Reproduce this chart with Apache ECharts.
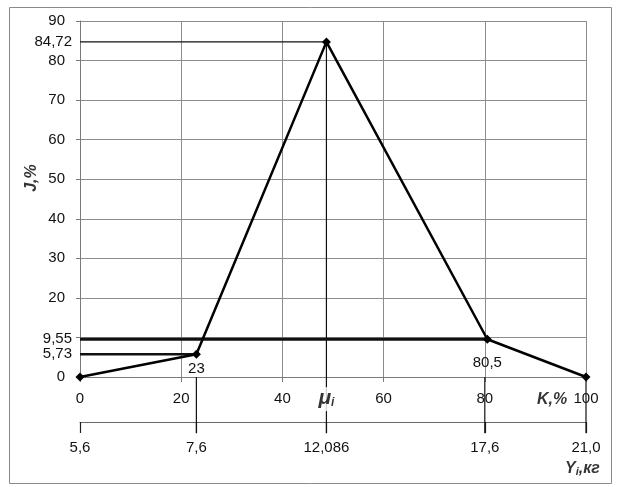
<!DOCTYPE html>
<html>
<head>
<meta charset="utf-8">
<script src="https://cdn.jsdelivr.net/npm/echarts@6/dist/echarts.min.js"></script>
<style>
  html, body { margin: 0; padding: 0; background: #fff; }
  #chart { width: 617px; height: 487px; }
</style>
</head>
<body>
<div id="chart"></div>
<script>
// ломаная J(K)
const kValues = [0, 23, 48.7, 80.5, 100];
const jValues = [0, 5.73, 84.72, 9.55, 0];
const kTicks = [0, 20, 40, 60, 80, 100];
const jTicks = [0, 20, 30, 40, 50, 60, 70, 80, 90];
const jMarks = [5.73, 9.55, 84.72];
// вторая шкала Yi, кг
const yiPos = [0, 23, 48.7, 80, 100];
const yiLabels = ['5,6', '7,6', '12,086', '17,6', '21,0'];

const font = 'Liberation Sans';
const comma = v => String(v).replace('.', ',');
const guideBottom = -14.2; // низ засечек второй шкалы
const peak = 2;

const chart = echarts.init(document.getElementById('chart'));

const vline = (x, y0) => ({
  type: 'line', silent: true, clip: false, symbol: 'none', z: 3,
  data: [[x, y0], [x, guideBottom]],
  lineStyle: { color: '#111', width: 1.2 }
});
const hline = (i, w, c) => ({
  type: 'line', silent: true, clip: false, symbol: 'none', z: 3,
  data: [[0, jValues[i]], [kValues[i], jValues[i]]],
  lineStyle: { color: c, width: w }
});
const note = (x, y, text, extra) => ({
  value: [x, y],
  label: Object.assign({ show: true, position: 'inside', formatter: text }, extra || {})
});

const option = {
  animation: false,
  textStyle: { fontFamily: font },
  graphic: [{
    type: 'rect', silent: true,
    shape: { x: 9.5, y: 7.5, width: 602, height: 476 },
    style: { fill: 'none', stroke: '#8a8a8a', lineWidth: 1 }
  }],
  grid: { left: 80, right: 31, top: 21, bottom: 110 },
  xAxis: [{
    type: 'value', min: 0, max: 100, interval: 20,
    axisLine: { onZero: false, lineStyle: { color: '#7a7a7a' } },
    axisTick: { length: 5, lineStyle: { color: '#7a7a7a' } },
    splitLine: { lineStyle: { color: '#8c8c8c', width: 1 } },
    axisLabel: { customValues: kTicks, margin: 14, fontSize: 15, color: '#111', fontFamily: font }
  }, {
    type: 'value', min: 0, max: 100, position: 'bottom', offset: 45,
    axisLine: { show: true, onZero: false, lineStyle: { color: '#6a6a6a' } },
    axisTick: { show: true, customValues: yiPos, length: 11, lineStyle: { color: '#222', width: 1.2 } },
    splitLine: { show: false },
    axisLabel: {
      customValues: yiPos, margin: 18, fontSize: 15, color: '#111', fontFamily: font,
      formatter: v => yiLabels[yiPos.indexOf(v)]
    }
  }],
  yAxis: [{
    type: 'value', min: 0, max: 90, interval: 10,
    axisLine: { show: true, onZero: false, lineStyle: { color: '#7a7a7a' } },
    axisTick: { show: true, length: 4, lineStyle: { color: '#7a7a7a' } },
    splitLine: { lineStyle: { color: '#8c8c8c', width: 1 } },
    axisLabel: { customValues: jTicks, margin: 15, fontSize: 15, color: '#111', fontFamily: font }
  }, {
    type: 'value', min: 0, max: 90, position: 'left',
    axisLine: { show: false }, axisTick: { show: false }, splitLine: { show: false },
    axisLabel: {
      customValues: jMarks, margin: 8, fontSize: 15, color: '#111', fontFamily: font,
      formatter: v => comma(v)
    }
  }],
  series: [
    hline(peak, 1.3, '#111'),
    hline(3, 3, '#111'),
    hline(1, 2.5, '#111'),
    vline(kValues[peak], jValues[peak]),
    vline(kValues[1], 0),
    vline(yiPos[3], 0),
    vline(yiPos[4], 0),
    {
      type: 'line', z: 5, clip: false,
      symbol: 'diamond', symbolSize: 9,
      itemStyle: { color: '#000' },
      lineStyle: { color: '#000', width: 2.5 },
      data: kValues.map((k, i) => ({
        value: [k, jValues[i]],
        label: (i === 1 || i === 3) ? {
          show: true, position: 'bottom', distance: i === 1 ? 3 : 12,
          formatter: comma(k), fontSize: 15, color: '#111', fontFamily: font,
          backgroundColor: i === 1 ? '#fff' : 'transparent'
        } : { show: false }
      }))
    },
    {
      type: 'scatter', symbolSize: 0, clip: false, silent: true, z: 6,
      data: [
        note(kValues[peak], -5.6, '{m|μ}{s|i}', {
          backgroundColor: '#fff', padding: [1, 2, 2, 2],
          rich: {
            m: { fontSize: 21, fontWeight: 'bold', fontStyle: 'italic', color: '#000', fontFamily: font },
            s: { fontSize: 12, fontWeight: 'bold', fontStyle: 'italic', color: '#000', fontFamily: font, padding: [8, 0, 0, 0] }
          }
        }),
        note(93.3, -5.6, 'K,%', { fontSize: 16, fontWeight: 'bold', fontStyle: 'italic', color: '#000' }),
        note(99.3, -23.2, '{y|Y}{s|i}{y|,кг}', {
          rich: {
            y: { fontSize: 16, fontWeight: 'bold', fontStyle: 'italic', color: '#000', fontFamily: font },
            s: { fontSize: 11, fontWeight: 'bold', fontStyle: 'italic', color: '#000', fontFamily: font, padding: [6, 0, 0, 0] }
          }
        }),
        note(-9.5, 50.3, 'J,%', { rotate: 90, fontSize: 16, fontWeight: 'bold', fontStyle: 'italic', color: '#000' })
      ]
    }
  ]
};

chart.setOption(option);
</script>
</body>
</html>
